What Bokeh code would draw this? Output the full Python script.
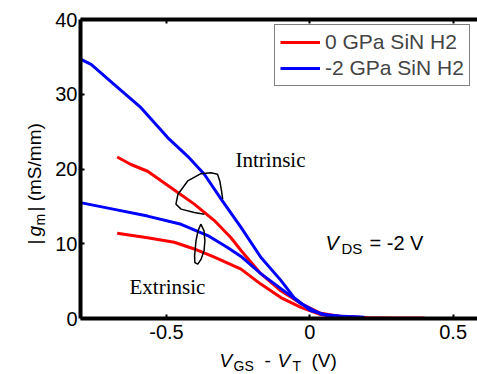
import math
from bokeh.plotting import figure
from bokeh.models import (Label, Legend, LegendItem, LinearAxis, FixedTicker,
                          Range1d)
from bokeh.embed import file_html
from bokeh.resources import INLINE

# ---------------- data ----------------
# 0 GPa SiN H2 (red)
red_int_v = [-0.672, -0.624, -0.566, -0.484, -0.403, -0.333, -0.275, -0.240,
             -0.171, -0.101, -0.031, 0.038, 0.108, 0.20, 0.30, 0.40]
red_int_g = [21.6, 20.6, 19.7, 17.5, 15.3, 13.1, 10.8, 9.1,
             6.0, 3.7, 2.0, 0.7, 0.27, 0.10, 0.05, 0.03]
red_ext_v = [-0.672, -0.566, -0.473, -0.403, -0.333, -0.240, -0.171, -0.101,
             -0.031, 0.038, 0.108, 0.20, 0.30, 0.40]
red_ext_g = [11.4, 10.8, 10.2, 9.3, 8.2, 6.6, 4.6, 2.8,
             1.5, 0.53, 0.17, 0.08, 0.05, 0.03]
# -2 GPa SiN H2 (blue)
blue_int_v = [-0.80, -0.763, -0.682, -0.589, -0.496, -0.426, -0.368, -0.310,
              -0.240, -0.171, -0.101, -0.055, 0.003, 0.062, 0.131, 0.19]
blue_int_g = [34.7, 34.0, 31.3, 28.2, 24.2, 21.7, 19.3, 16.0,
              12.2, 8.2, 5.1, 2.8, 1.07, 0.40, 0.27, 0.17]
blue_ext_v = [-0.80, -0.682, -0.566, -0.449, -0.356, -0.287, -0.240, -0.171,
              -0.101, -0.031, 0.038, 0.108, 0.19]
blue_ext_g = [15.5, 14.6, 13.7, 12.6, 11.1, 9.5, 8.3, 6.0,
              4.0, 2.0, 0.6, 0.27, 0.15]

# annotation loops (hand-drawn lassos in the original)
loop_int_v = [-0.368, -0.403, -0.449, -0.467, -0.460, -0.426, -0.380, -0.345,
              -0.322, -0.314, -0.308, -0.304]
loop_int_g = [13.96, 14.17, 14.63, 15.29, 16.63, 18.4, 19.37, 19.5,
              19.3, 18.4, 17.07, 15.96]
loop_ext_v = [-0.380, -0.390, -0.397, -0.402, -0.401, -0.391, -0.380, -0.369,
              -0.366, -0.369, -0.380]
loop_ext_g = [12.63, 11.73, 10.4, 8.4, 7.47, 7.27, 7.87, 9.07,
              10.4, 11.73, 12.63]

x_ticks = [-0.5, 0, 0.5]
x_tick_labels = ["-0.5", "0", "0.5"]
y_ticks = [0, 10, 20, 30, 40]
series_labels = ["0 GPa SiN H2", "-2 GPa SiN H2"]

# visible axes box
X0, X1 = -0.8, 0.585
Y0, Y1 = 0, 40
W, H = 477, 374
BOX_L, BOX_T, BOX_B = 80, 19, 318          # pixel edges of the axes box
KX = (X1 - X0) / (W - BOX_L)
KY = (Y1 - Y0) / (BOX_B - BOX_T)
XA, XB = X0 - BOX_L * KX, X1
YA, YB = Y0 - (H - BOX_B) * KY, Y1 + BOX_T * KY

SANS = "Liberation Sans"
SERIF = "Liberation Serif"

p = figure(width=W, height=H, x_range=Range1d(XA, XB), y_range=Range1d(YA, YB),
           output_backend="svg", toolbar_location=None, min_border=0,
           min_border_left=0, min_border_right=0,
           min_border_top=0, min_border_bottom=0)
p.xgrid.visible = False
p.ygrid.visible = False
p.outline_line_color = None
p.background_fill_color = "white"
p.border_fill_color = "white"

xax, yax = p.xaxis[0], p.yaxis[0]
xax.fixed_location = Y0
xax.bounds = (X0, X1)
yax.fixed_location = X0
yax.bounds = (Y0, Y1)
for ax in (xax, yax):
    ax.axis_line_width = 4
    ax.axis_line_color = "black"
    ax.major_tick_in = 4
    ax.major_tick_out = 0
    ax.major_tick_line_width = 2
    ax.minor_tick_line_color = None
    ax.major_label_text_font = SANS
    ax.major_label_text_font_size = "20px"
    ax.major_label_text_color = "black"
xax.ticker = FixedTicker(ticks=x_ticks)
xax.major_label_overrides = dict(zip(x_ticks, x_tick_labels))
xax.major_label_standoff = 6
yax.ticker = FixedTicker(ticks=y_ticks)
yax.major_label_standoff = 3

top = LinearAxis(ticker=FixedTicker(ticks=x_ticks), fixed_location=Y1,
                 bounds=(X0, X1), axis_line_width=4, axis_line_color="black",
                 major_tick_in=4, major_tick_out=0, major_tick_line_width=2,
                 minor_tick_line_color=None, major_label_text_color=None)
p.add_layout(top, "above")

# curves
r_ri = p.line(red_int_v, red_int_g, color="#ff0000", line_width=3)
r_re = p.line(red_ext_v, red_ext_g, color="#ff0000", line_width=3)
r_bi = p.line(blue_int_v, blue_int_g, color="#0000ff", line_width=3)
r_be = p.line(blue_ext_v, blue_ext_g, color="#0000ff", line_width=3)

p.line(loop_int_v, loop_int_g, color="black", line_width=1.5)
p.line(loop_ext_v, loop_ext_g, color="black", line_width=1.5)

legend = Legend(items=[LegendItem(label=series_labels[0], renderers=[r_ri]),
                       LegendItem(label=series_labels[1], renderers=[r_bi])],
                location=(274, H - 86), border_line_color="black",
                border_line_width=1, label_text_font=SANS,
                label_text_font_size="21px", glyph_width=40, glyph_height=20,
                label_height=20, spacing=2, padding=5, margin=0,
                label_standoff=5, background_fill_alpha=1)
p.add_layout(legend)


def xd(px):
    return X0 + (px - BOX_L) * KX


def yd(py):
    return Y0 + (BOX_B - py) * KY


def txt(s, px, py, size, font=SANS, style="normal", angle=0):
    p.add_layout(Label(x=xd(px), y=yd(py), text=s, text_font=font,
                       text_font_size=size, text_font_style=style,
                       text_color="black", text_align="left",
                       text_baseline="alphabetic", angle=angle))


txt("Intrinsic", 235, 159, "21px", SERIF)
txt("Extrinsic", 129, 286, "21px", SERIF)

txt("V", 325, 242, "20px", style="italic")
txt("DS", 341, 248, "15px")
txt("= -2 V", 369, 242, "20px")

txt("V", 219, 360, "19px", style="italic")
txt("GS", 233, 365, "14px")
txt("-", 264, 360, "19px")
txt("V", 277, 360, "19px", style="italic")
txt("T", 292, 365, "14px")
txt("(V)", 311, 360, "19px")

a = math.pi / 2
txt("|", 34, 244, "19px", angle=a)
txt("g", 34, 236, "19px", style="italic", angle=a)
txt("m", 39, 225, "14px", angle=a)
txt("| (mS/mm)", 34, 211, "19px", angle=a)

open("out.html", "w").write(file_html(p, INLINE))
